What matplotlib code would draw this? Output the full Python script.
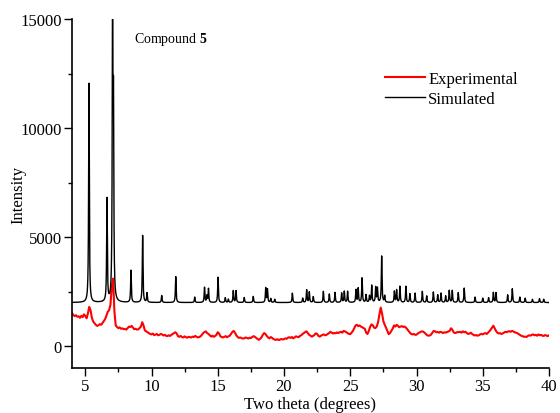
import numpy as np
import matplotlib
matplotlib.use("Agg")
import matplotlib.pyplot as plt

# simulated pattern: peak positions (deg 2theta) and peak tops (as plotted, offset 2000)
sim_offset = 2000
sim_pos = [5.28, 6.64, 7.06, 7.13, 8.45, 9.33, 9.66, 10.77, 11.83, 13.26, 14.0, 14.18, 14.3,
           15.02, 15.57, 15.8, 16.17, 16.38, 17.0, 17.68, 18.62, 18.75, 19.0, 19.3,
           20.63, 21.41, 21.71, 21.91, 22.21, 22.97, 23.42, 23.85, 24.35, 24.55, 24.8,
           25.43, 25.6, 25.89, 26.19, 26.45, 26.62, 26.92, 27.05, 27.37, 27.6,
           28.33, 28.5, 28.75, 29.2, 29.5, 29.89, 30.44, 30.77, 31.27, 31.6, 31.85,
           32.2, 32.47, 32.7, 33.15, 33.6, 34.42, 35.0, 35.44, 35.8, 36.0, 36.88,
           37.23, 37.8, 38.2, 38.75, 39.28, 39.6]
sim_top = [12050, 6720, 15200, 10300, 3470, 5070, 2430, 2320, 3190, 2250, 2690, 2300, 2630,
           3160, 2220, 2150, 2540, 2540, 2230, 2280, 2660, 2600, 2180, 2150,
           2430, 2200, 2580, 2480, 2270, 2510, 2390, 2460, 2430, 2510, 2510,
           2580, 2650, 3120, 2350, 2300, 2780, 2690, 2650, 4120, 2300,
           2510, 2570, 2740, 2740, 2400, 2430, 2510, 2300, 2480, 2350, 2430,
           2300, 2550, 2550, 2450, 2660, 2250, 2200, 2220, 2460, 2450, 2350,
           2630, 2250, 2200, 2150, 2180, 2150]
sim_fwhm = 0.06

# experimental pattern, read every 0.1 deg from 4.0 to 40.0
exp_start, exp_step = 4.0, 0.1
exp_y = [
    1510, 1430, 1380, 1420, 1350, 1370, 1300, 1390, 1330, 1460,
    1380, 1280, 1500, 1800, 1650, 1300, 1130, 1050, 980, 930,
    960, 1010, 980, 1060, 1150, 1250, 1400, 1580, 1650, 1900,
    2700, 3100, 1600, 950, 880, 830, 860, 800, 820, 780,
    790, 760, 830, 900, 880, 930, 850, 780, 800, 760,
    770, 830, 900, 1100, 950, 720, 680, 640, 600, 560,
    540, 580, 510, 530, 560, 500, 520, 560, 540, 490,
    520, 480, 460, 500, 470, 520, 560, 600, 640, 580,
    460, 430, 470, 420, 400, 450, 410, 390, 430, 410,
    400, 440, 420, 470, 430, 400, 420, 450, 520, 600,
    650, 680, 600, 560, 500, 440, 480, 430, 470, 520,
    640, 580, 450, 420, 400, 430, 460, 410, 450, 480,
    560, 650, 700, 620, 500, 420, 380, 400, 370, 350,
    360, 400, 380, 350, 390, 370, 420, 460, 430, 380,
    330, 290, 340, 400, 520, 600, 560, 470, 400, 360,
    420, 380, 330, 300, 290, 320, 280, 300, 330, 310,
    320, 360, 340, 390, 410, 380, 420, 360, 400, 450,
    430, 410, 470, 500, 560, 600, 650, 680, 600, 520,
    480, 440, 470, 520, 590, 560, 470, 440, 480, 520,
    540, 500, 520, 560, 600, 660, 620, 580, 610, 590,
    630, 600, 640, 660, 620, 700, 680, 640, 600, 560,
    550, 620, 700, 820, 950, 980, 920, 950, 900, 870,
    830, 800, 620, 560, 700, 880, 1000, 960, 850, 830,
    900, 1100, 1450, 1770, 1500, 1150, 980, 850, 700, 550,
    600, 700, 800, 950, 900, 980, 930, 870, 900, 920,
    880, 900, 850, 780, 700, 620, 560, 540, 560, 520,
    530, 580, 620, 650, 680, 670, 620, 560, 500, 480,
    490, 530, 620, 700, 680, 640, 650, 620, 660, 640,
    600, 640, 620, 650, 670, 700, 820, 760, 640, 600,
    620, 650, 640, 660, 620, 680, 640, 660, 600, 560,
    580, 620, 560, 520, 490, 510, 480, 500, 540, 560,
    540, 580, 600, 560, 620, 680, 760, 850, 940, 820,
    700, 620, 580, 600, 560, 580, 620, 660, 640, 670,
    690, 660, 700, 680, 640, 620, 600, 560, 520, 480,
    460, 430, 440, 420, 470, 500, 480, 520, 540, 500,
    520, 480, 540, 500, 520, 480, 470, 510, 490, 460,
    500,
]

plt.rcParams["font.family"] = ["Liberation Serif", "DejaVu Serif"]
plt.rcParams["mathtext.fontset"] = "custom"
plt.rcParams["mathtext.rm"] = "Liberation Serif"
plt.rcParams["mathtext.bf"] = "Liberation Serif:bold"

fig = plt.figure(figsize=(5.6, 4.14), dpi=100)
ax = fig.add_axes([72 / 560, 1 - 369 / 414, (549 - 72) / 560, (369 - 20) / 414])

# build simulated profile from the peak list (Lorentzian lines on a flat base)
tt = np.arange(4.0, 40.0001, 0.005)
sim = np.full_like(tt, sim_offset, dtype=float)
hw = sim_fwhm / 2
for p, top in zip(sim_pos, sim_top):
    sim += (top - sim_offset) / (1 + ((tt - p) / hw) ** 2)

exp_x = exp_start + exp_step * np.arange(len(exp_y))

ax.plot(exp_x, exp_y, color="red", lw=1.5, label="Experimental")
ax.plot(tt, sim, color="black", lw=1.0, label="Simulated")

ax.set_xlim(4, 40)
ax.set_ylim(-1000, 15000)
ax.set_xticks([5, 10, 15, 20, 25, 30, 35, 40])
ax.set_xticks(np.arange(7.5, 40, 5), minor=True)
ax.set_yticks([0, 5000, 10000, 15000])
ax.set_yticks([2500, 7500, 12500], minor=True)
ax.tick_params(which="major", direction="out", length=5.5, width=1.0, labelsize=12, pad=2)
ax.tick_params(which="minor", direction="out", length=3, width=1.0)

for s in ["top", "right"]:
    ax.spines[s].set_visible(False)
for s in ["left", "bottom"]:
    ax.spines[s].set_linewidth(1.2)

ax.set_xlabel("Two theta (degrees)", fontsize=12, labelpad=1)
ax.set_ylabel("Intensity", fontsize=12)
ax.yaxis.set_label_coords(-0.095, 0.5)

ax.text(8.68, 14100, r"Compound $\mathbf{5}$", fontsize=10, va="center")

ax.legend(loc="upper left", bbox_to_anchor=(385 / 560, 1 - 72 / 414),
          bbox_transform=fig.transFigure, frameon=False, fontsize=12,
          borderpad=0, borderaxespad=0, handlelength=2.4, handletextpad=0.2,
          labelspacing=0.25)

fig.savefig("out.png", dpi=100)
